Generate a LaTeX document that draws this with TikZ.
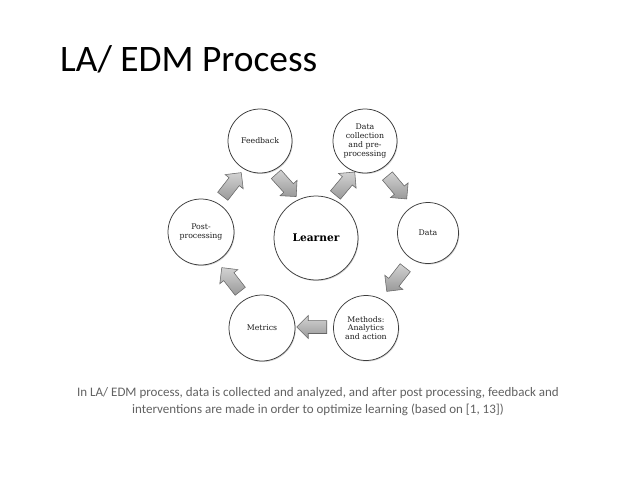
\documentclass[tikz,border=0pt]{standalone}
\usepackage{fontspec}
\setmainfont{Carlito}
\newfontfamily\labelfont{DejaVu Serif}
\usetikzlibrary{shapes.arrows,shadows}
\definecolor{captiongray}{RGB}{98,98,98}
\definecolor{ringgray}{RGB}{60,60,60}
\definecolor{labelgray}{RGB}{30,30,30}
\begin{document}
\begin{tikzpicture}[x=1pt,y=-1pt,
  stage/.style={circle, draw=ringgray, line width=0.75pt, fill=white,
    minimum size=64pt, inner sep=0pt, align=center,
    font=\labelfont\fontsize{7.8}{8.8}\selectfont, text=labelgray,
    drop shadow={shadow xshift=0.8pt, shadow yshift=-1pt, opacity=0.35, fill=gray}},
  flowarrow/.style={single arrow, draw=black!60, line width=0.55pt,
    minimum height=30pt, inner sep=6.2pt, single arrow head extend=5pt,
    top color=gray!35, bottom color=gray!80, shading angle=0}
]
\useasboundingbox (0,0) rectangle (638,479);
\fill[white] (0,0) rectangle (638,479);

% title
\node[anchor=base west, inner sep=0pt, font=\fontsize{37.4}{41}\selectfont] (title) at (60,71) {LA/ EDM Process};

% stages
\node[stage, minimum size=84pt, font=\labelfont\bfseries\fontsize{10.6}{12}\selectfont, text=black] (learner) at (316,238) {Learner};
\node[stage] (feedback) at (260,141) {Feedback};
\node[stage] (collect) at (365,141) {Data\\collection\\and pre-\\processing};
\node[stage, minimum size=61pt] (data) at (428,233) {Data};
\node[stage, minimum size=65pt] (methods) at (366,328) {Methods:\\Analytics\\and action};
\node[stage, minimum size=66pt] (metrics) at (262,328) {Metrics};
\node[stage, minimum size=66pt] (post) at (201,232) {Post-\\processing};

% flow arrows
\node[flowarrow, rotate=52] (a1) at (230,187) {};
\node[flowarrow, rotate=-48] (a2) at (284,183) {};
\node[flowarrow, rotate=50] (a3) at (343,186) {};
\node[flowarrow, rotate=-50] (a4) at (395,185) {};
\node[flowarrow, rotate=-128] (a5) at (398,277) {};
\node[flowarrow, rotate=180] (a6) at (315,327) {};
\node[flowarrow, rotate=128] (a7) at (233,282) {};

% caption
\node[anchor=base, inner sep=0pt, align=center, text=captiongray,
  font=\fontsize{13}{17}\selectfont] (caption) at (318,413)
  {In LA/ EDM process, data is collected and analyzed, and after post processing, feedback and\\
   interventions are made in order to optimize learning (based on [1, 13])};
\end{tikzpicture}
\end{document}
